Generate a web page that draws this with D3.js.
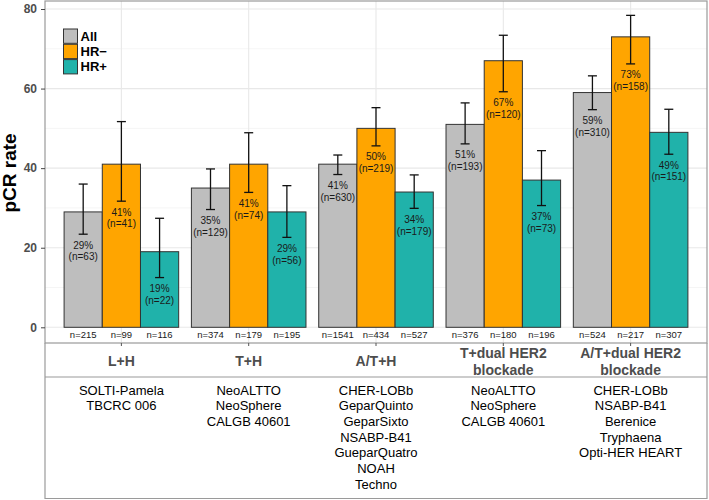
<!DOCTYPE html>
<html>
<head>
<meta charset="utf-8">
<script src="https://cdn.jsdelivr.net/npm/d3@7"></script>
<style>
  html, body { margin: 0; padding: 0; background: #fff; }
  svg { display: block; font-family: "Liberation Sans", Arial, sans-serif; }
</style>
</head>
<body>
<svg id="chart" width="709" height="500"></svg>
<script>
// ---------------- DATA ----------------
const categories = ["L+H", "T+H", "A/T+H", "T+dual HER2 blockade", "A/T+dual HER2 blockade"];
const categoryLines = [["L+H"], ["T+H"], ["A/T+H"], ["T+dual HER2", "blockade"], ["A/T+dual HER2", "blockade"]];
const series = ["All", "HR\u2212", "HR+"];
const seriesColors = ["#BEBEBE", "#FFA500", "#20B2AA"];

const pctAll    = [29, 35, 41, 51, 59];
const pctHRneg  = [41, 41, 50, 67, 73];
const pctHRpos  = [19, 29, 34, 37, 49];

const respAll   = [63, 129, 630, 193, 310];
const respHRneg = [41, 74, 219, 120, 158];
const respHRpos = [22, 56, 179, 73, 151];

const totalAll   = [215, 374, 1541, 376, 524];
const totalHRneg = [99, 179, 434, 180, 217];
const totalHRpos = [116, 195, 527, 196, 307];

const lowerAll   = [23.4, 29.6, 38.4, 46.1, 54.7];
const upperAll   = [36.0, 39.8, 43.3, 56.4, 63.2];
const lowerHRneg = [31.7, 33.9, 45.6, 59.2, 66.2];
const upperHRneg = [51.7, 48.9, 55.2, 73.4, 78.4];
const lowerHRpos = [12.5, 22.6, 29.9, 30.6, 43.5];
const upperHRpos = [27.4, 35.6, 38.3, 44.4, 54.8];

const trials = [
  ["SOLTI-Pamela", "TBCRC 006"],
  ["NeoALTTO", "NeoSphere", "CALGB 40601"],
  ["CHER-LOBb", "GeparQuinto", "GeparSixto", "NSABP-B41", "GueparQuatro", "NOAH", "Techno"],
  ["NeoALTTO", "NeoSphere", "CALGB 40601"],
  ["CHER-LOBb", "NSABP-B41", "Berenice", "Tryphaena", "Opti-HER HEART"]
];

const yTicks = [0, 20, 40, 60, 80];
const yMinor = [10, 30, 50, 70];
const yLabel = "pCR rate";

// ---------------- BUILD TABLE ----------------
const pcts = [pctAll, pctHRneg, pctHRpos];
const resps = [respAll, respHRneg, respHRpos];
const totals = [totalAll, totalHRneg, totalHRpos];
const lowers = [lowerAll, lowerHRneg, lowerHRpos];
const uppers = [upperAll, upperHRneg, upperHRpos];
const rows = [];
categories.forEach((c, i) => {
  series.forEach((s, j) => {
    rows.push({cat: c, ser: s, color: seriesColors[j], pct: pcts[j][i], resp: resps[j][i],
               total: totals[j][i], lo: lowers[j][i], hi: uppers[j][i]});
  });
});

// ---------------- LAYOUT ----------------
const L = 45, R = 707, T = 1, PB = 343, SEP = 377, BOT = 499;
const svg = d3.select("#chart");

const x = d3.scaleBand().domain(categories).range([L, R]).paddingInner(0.1).paddingOuter(0.15);
const xs = d3.scaleBand().domain(series).range([0, x.bandwidth()]).padding(0);
const y = d3.scaleLinear().domain([0, 80]).range([327.3, 9]);

// grid
const grid = svg.append("g");
grid.selectAll("line.minor").data(yMinor).join("line")
  .attr("x1", L).attr("x2", R).attr("y1", d => y(d)).attr("y2", d => y(d))
  .attr("stroke", "#f2f2f2").attr("stroke-width", 0.8);
grid.selectAll("line.major").data(yTicks).join("line")
  .attr("x1", L).attr("x2", R).attr("y1", d => y(d)).attr("y2", d => y(d))
  .attr("stroke", "#e8e8e8").attr("stroke-width", 1.1);
grid.selectAll("line.vert").data(categories).join("line")
  .attr("x1", d => x(d) + x.bandwidth() / 2).attr("x2", d => x(d) + x.bandwidth() / 2)
  .attr("y1", T).attr("y2", PB)
  .attr("stroke", "#e8e8e8").attr("stroke-width", 1.1);

// bars
const bars = svg.append("g");
bars.selectAll("rect").data(rows).join("rect")
  .attr("x", d => x(d.cat) + xs(d.ser))
  .attr("width", xs.bandwidth())
  .attr("y", d => y(d.pct))
  .attr("height", d => y(0) - y(d.pct))
  .attr("fill", d => d.color)
  .attr("stroke", "#333")
  .attr("stroke-width", 1);

// error bars
const eb = svg.append("g").attr("stroke", "#111").attr("stroke-width", 1.3);
const cx = d => x(d.cat) + xs(d.ser) + xs.bandwidth() / 2;
eb.selectAll("line.v").data(rows).join("line")
  .attr("x1", cx).attr("x2", cx).attr("y1", d => y(d.lo)).attr("y2", d => y(d.hi));
eb.selectAll("line.t").data(rows).join("line")
  .attr("x1", d => cx(d) - 4.5).attr("x2", d => cx(d) + 4.5).attr("y1", d => y(d.hi)).attr("y2", d => y(d.hi));
eb.selectAll("line.b").data(rows).join("line")
  .attr("x1", d => cx(d) - 4.5).attr("x2", d => cx(d) + 4.5).attr("y1", d => y(d.lo)).attr("y2", d => y(d.lo));

// bar labels
const lab = svg.append("g").attr("font-size", 10).attr("fill", "#1a1a1a").attr("text-anchor", "middle");
lab.selectAll("text.p").data(rows).join("text")
  .attr("x", cx).attr("y", d => y(d.lo) + 11).attr("dy", "0.35em")
  .text(d => d.pct + "%");
lab.selectAll("text.n").data(rows).join("text")
  .attr("x", cx).attr("y", d => y(d.lo) + 22.7).attr("dy", "0.35em")
  .text(d => "(n=" + d.resp + ")");

// totals below bars
svg.append("g").attr("font-size", 9.5).attr("fill", "#1a1a1a").attr("text-anchor", "middle")
  .selectAll("text").data(rows).join("text")
  .attr("x", cx).attr("y", 334.6).attr("dy", "0.35em")
  .text(d => "n=" + d.total);

// frame
const frame = svg.append("g").attr("stroke", "#9a9a9a").attr("stroke-width", 1.2).attr("fill", "none");
frame.append("rect").attr("x", L).attr("y", T).attr("width", R - L).attr("height", PB - T);
frame.append("line").attr("x1", L).attr("x2", L).attr("y1", PB).attr("y2", BOT);
frame.append("line").attr("x1", R).attr("x2", R).attr("y1", PB).attr("y2", BOT);
frame.append("line").attr("x1", L).attr("x2", R).attr("y1", SEP).attr("y2", SEP);
frame.append("line").attr("x1", L).attr("x2", R).attr("y1", BOT - 0.5).attr("y2", BOT - 0.5);

// x ticks
svg.append("g").selectAll("line").data(categories).join("line")
  .attr("x1", d => x(d) + x.bandwidth() / 2).attr("x2", d => x(d) + x.bandwidth() / 2)
  .attr("y1", PB).attr("y2", PB + 3).attr("stroke", "#555").attr("stroke-width", 1);

// y axis
const yAxis = svg.append("g").attr("transform", `translate(${L},0)`)
  .call(d3.axisLeft(y).tickValues(yTicks).tickSize(4).tickPadding(4));
yAxis.select(".domain").remove();
yAxis.selectAll(".tick line").attr("stroke", "#444");
yAxis.selectAll(".tick text").attr("font-size", 12).attr("font-weight", "bold").attr("fill", "#4d4d4d")
  .attr("font-family", "Liberation Sans, Arial, sans-serif");

// y label
svg.append("text").attr("transform", "translate(16,173) rotate(-90)")
  .attr("text-anchor", "middle").attr("font-size", 19).attr("font-weight", "bold").attr("fill", "#000")
  .text(yLabel);

// category labels
const catG = svg.append("g").attr("font-size", 14).attr("font-weight", "bold").attr("fill", "#4d4d4d").attr("text-anchor", "middle");
categories.forEach((c, i) => {
  const lines = categoryLines[i];
  const c0 = 361.5 - (lines.length - 1) * 17 / 2;
  lines.forEach((t, k) => {
    catG.append("text").attr("x", x(c) + x.bandwidth() / 2).attr("y", c0 + k * 17).attr("dy", "0.35em").text(t);
  });
});

// trials
const trG = svg.append("g").attr("font-size", 13).attr("fill", "#000").attr("text-anchor", "middle");
categories.forEach((c, i) => {
  trials[i].forEach((t, k) => {
    trG.append("text").attr("x", x(c) + x.bandwidth() / 2).attr("y", 390 + k * 15.67).attr("dy", "0.35em").text(t);
  });
});

// legend
const leg = svg.append("g");
const legY = [29, 44.3, 59.6];
series.forEach((s, j) => {
  leg.append("rect").attr("x", 63.5).attr("y", legY[j]).attr("width", 14).attr("height", 14.3)
    .attr("fill", seriesColors[j]).attr("stroke", "#333").attr("stroke-width", 1);
  leg.append("text").attr("x", 80.5).attr("y", legY[j] + 7.2).attr("dy", "0.35em")
    .attr("font-size", 13).attr("font-weight", "bold").attr("fill", "#000").text(s);
});
</script>
</body>
</html>
